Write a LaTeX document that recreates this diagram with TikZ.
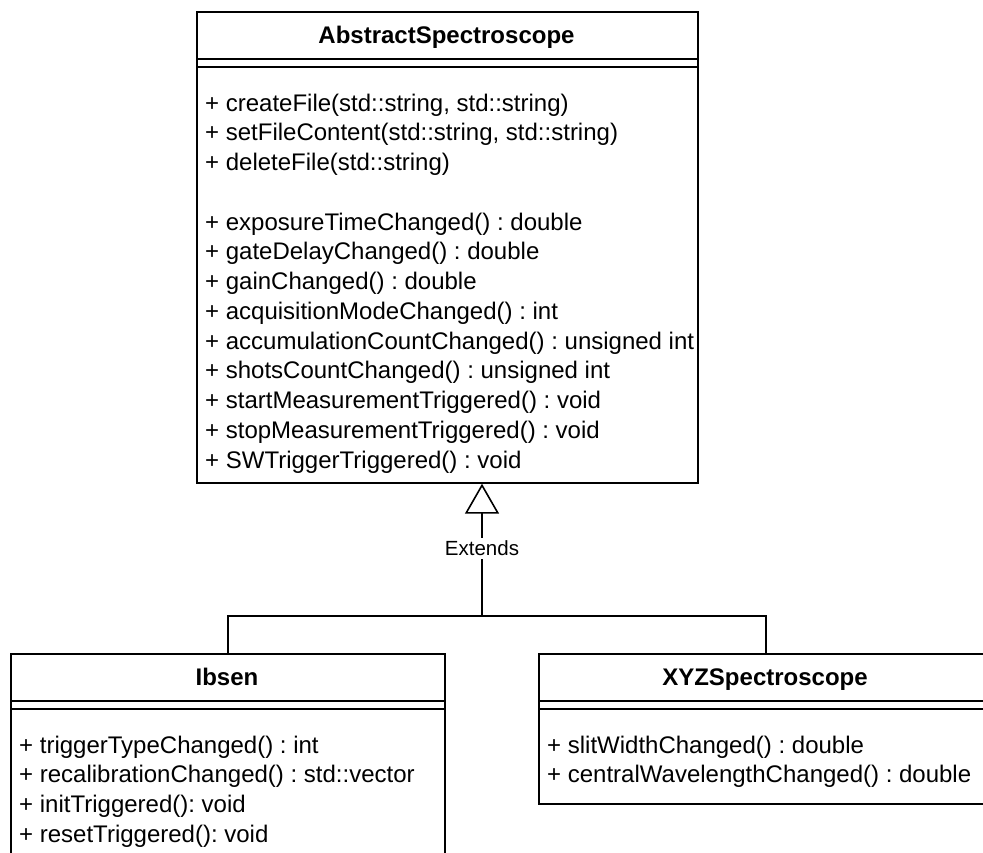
\documentclass[tikz,border=0pt]{standalone}
\usepackage{fontspec}
\setmainfont{Liberation Sans}
\usetikzlibrary{arrows.meta}
\frenchspacing
\begin{document}
\frenchspacing
\begin{tikzpicture}[x=1pt,y=1pt,
  umlbox/.style={draw, line width=1.7pt, inner sep=0pt, anchor=north west, rectangle},
  sep/.style={line width=1.7pt},
  conn/.style={line width=1.6pt},
  title/.style={font=\fontsize{24}{28}\selectfont\bfseries, inner sep=0pt, anchor=base},
  member/.style={font=\fontsize{24}{28}\selectfont, inner sep=0pt, anchor=base west},
  lbl/.style={font=\fontsize{20.5}{24}\selectfont, fill=white, inner sep=3pt}
]
\useasboundingbox (0,0) rectangle (983,-852);
\clip (0,0) rectangle (983,-852);

% AbstractSpectroscope
\node[umlbox, minimum width=501pt, minimum height=471pt] (abs) at (196,-11) {};
\draw[sep] (196,-59) -- (697,-59);
\draw[sep] (196,-67) -- (697,-67);
\node[title] (absT) at (446.5,-43.6) {AbstractSpectroscope};
\node[member] (a1)  at (205,-111)    {+ createFile(std::string, std::string)};
\node[member] (a2)  at (205,-140.75) {+ setFileContent(std::string, std::string)};
\node[member] (a3)  at (205,-170.5)  {+ deleteFile(std::string)};
\node[member] (a4)  at (205,-230)    {+ exposureTimeChanged() : double};
\node[member] (a5)  at (205,-259.75) {+ gateDelayChanged() : double};
\node[member] (a6)  at (205,-289.5)  {+ gainChanged() : double};
\node[member] (a7)  at (205,-319.25) {+ acquisitionModeChanged() : int};
\node[member] (a8)  at (205,-349)    {+ accumulationCountChanged() : unsigned int};
\node[member] (a9)  at (205,-378.75) {+ shotsCountChanged() : unsigned int};
\node[member] (a10) at (205,-408.5)  {+ startMeasurementTriggered() : void};
\node[member] (a11) at (205,-438.25) {+ stopMeasurementTriggered() : void};
\node[member] (a12) at (205,-468)    {+ SWTriggerTriggered() : void};

% Ibsen
\node[umlbox, minimum width=434pt, minimum height=250pt] (ibsen) at (10,-653) {};
\draw[sep] (10,-701) -- (444,-701);
\draw[sep] (10,-709) -- (444,-709);
\node[title] (ibsenT) at (227,-685.6) {Ibsen};
\node[member] (b1) at (19,-753)    {+ triggerTypeChanged() : int};
\node[member] (b2) at (19,-782.75) {+ recalibrationChanged() : std::vector};
\node[member] (b3) at (19,-812.5)  {+ initTriggered(): void};
\node[member] (b4) at (19,-842.25) {+ resetTriggered(): void};

% XYZSpectroscope
\node[umlbox, minimum width=454pt, minimum height=150pt] (xyz) at (538,-653) {};
\draw[sep] (538,-701) -- (992,-701);
\draw[sep] (538,-709) -- (992,-709);
\node[title] (xyzT) at (765,-685.6) {XYZSpectroscope};
\node[member] (c1) at (547,-753)    {+ slitWidthChanged() : double};
\node[member] (c2) at (547,-782.75) {+ centralWavelengthChanged() : double};

% Generalisation
\coordinate (bus) at (482,-616);
\draw[conn] (ibsen.north) |- (bus) -| (xyz.north);
\draw[conn, -{Triangle[open, length=30pt, width=34pt]}] (bus) -- (bus |- abs.south)
  node[lbl, pos=0.51] (ext) {Extends};
\end{tikzpicture}
\end{document}
